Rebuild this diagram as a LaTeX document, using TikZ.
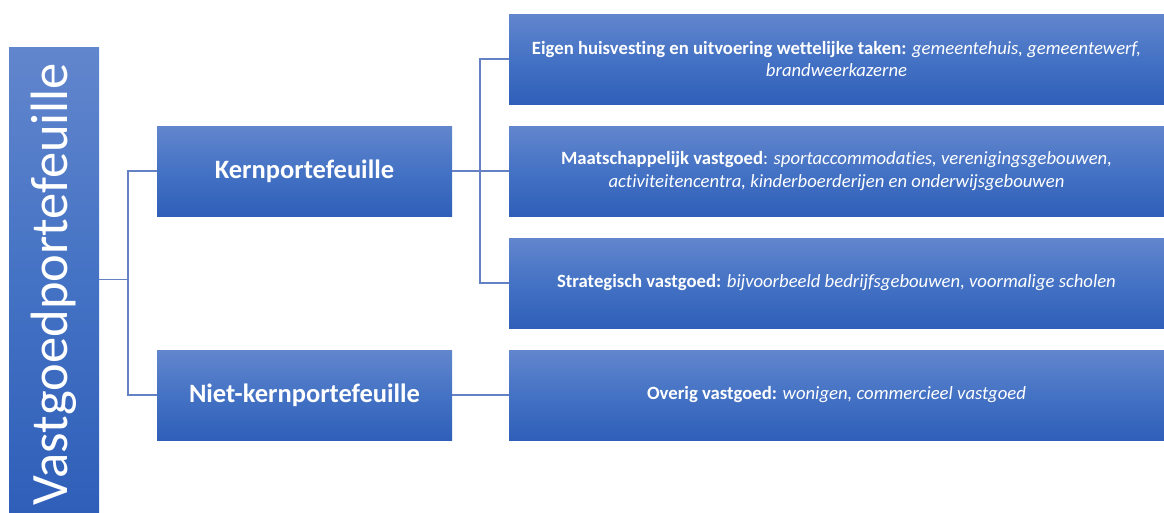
\documentclass[tikz,border=0pt]{standalone}
\usepackage{fontspec}
\setmainfont{Carlito}[Ligatures=NoCommon]
\definecolor{gtop}{RGB}{98,134,205}
\definecolor{gmid}{RGB}{68,114,196}
\definecolor{gbot}{RGB}{47,95,185}
\definecolor{conn}{RGB}{100,130,195}
\tikzset{
  gbox/.style={rectangle, inner sep=0pt, top color=gtop, bottom color=gbot, middle color=gmid, text=white, align=center},
  lvtwo/.style={gbox, minimum width=295pt, minimum height=90pt, font=\fontsize{26.5}{30}\selectfont\bfseries},
  lvthree/.style={gbox, minimum width=655pt, minimum height=90pt, font=\fontsize{18.7}{22.5}\selectfont},
  link/.style={draw=conn, line width=1.5pt}
}
\begin{document}
\begin{tikzpicture}
\useasboundingbox (0pt,0pt) rectangle (1164pt,-512pt);
\node[gbox, minimum width=90pt, minimum height=465pt] (root) at (54pt,-279.5pt) {};
\node[rotate=90, text=white, font=\fontsize{52.5}{60}\selectfont] (roottext) at (54pt,-284pt) {Vastgoedportefeuille};
\node[lvtwo] (kern) at (304.5pt,-171pt) {Kernportefeuille};
\node[lvtwo] (niet) at (304.5pt,-395pt) {Niet-kernportefeuille};
\node[lvthree] (e1) at (836.5pt,-59pt) {\textbf{Eigen huisvesting en uitvoering wettelijke taken:} \textit{gemeentehuis, gemeentewerf,}\\ \textit{brandweerkazerne}};
\node[lvthree] (e2) at (836.5pt,-171pt) {\textbf{Maatschappelijk vastgoed}: \textit{sportaccommodaties, verenigingsgebouwen,}\\ \textit{activiteitencentra, kinderboerderijen en onderwijsgebouwen}};
\node[lvthree] (e3) at (836.5pt,-283pt) {\textbf{Strategisch vastgoed:} \textit{bijvoorbeeld bedrijfsgebouwen, voormalige scholen}};
\node[lvthree] (e4) at (836.5pt,-395pt) {\textbf{Overig vastgoed:} \textit{wonigen, commercieel vastgoed}};
\coordinate (ja) at (128pt,0pt);
\coordinate (jb) at (480pt,0pt);
\draw[link] (root.east) -- (ja |- root.east);
\draw[link] (kern.west) -| (ja |- niet.west) -- (niet.west);
\draw[link] (kern.east) -- (jb |- kern.east);
\draw[link] (e1.west) -| (jb |- e3.west) -- (e3.west);
\draw[link] (e2.west) -- (jb |- e2.west);
\draw[link] (niet.east) -- (e4.west);
\end{tikzpicture}
\end{document}
